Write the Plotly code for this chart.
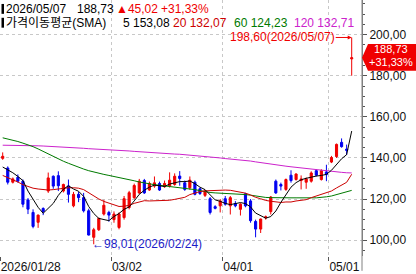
import plotly.graph_objects as go

# ---------------- data ----------------
dates = ["2026/01/28", "2026/01/29", "2026/01/30", "2026/02/02", "2026/02/03", "2026/02/04", "2026/02/05",
         "2026/02/06", "2026/02/09", "2026/02/10", "2026/02/11", "2026/02/12", "2026/02/13", "2026/02/16",
         "2026/02/18", "2026/02/19", "2026/02/20", "2026/02/23", "2026/02/24", "2026/02/25", "2026/02/26",
         "2026/02/27", "2026/03/02", "2026/03/03", "2026/03/04", "2026/03/05", "2026/03/06", "2026/03/09",
         "2026/03/10", "2026/03/11", "2026/03/12", "2026/03/13", "2026/03/16", "2026/03/17", "2026/03/18",
         "2026/03/19", "2026/03/20", "2026/03/23", "2026/03/24", "2026/03/25", "2026/03/26", "2026/03/27",
         "2026/03/30", "2026/03/31", "2026/04/01", "2026/04/02", "2026/04/03", "2026/04/06", "2026/04/07",
         "2026/04/08", "2026/04/09", "2026/04/10", "2026/04/13", "2026/04/14", "2026/04/15", "2026/04/16",
         "2026/04/17", "2026/04/20", "2026/04/21", "2026/04/22", "2026/04/23", "2026/04/24", "2026/04/27",
         "2026/04/28", "2026/04/29", "2026/05/01", "2026/05/04", "2026/05/05", "2026/05/06", "2026/05/07"]

opens = [139.8, 135.1, 128.2, 130.6, 128.7, 119.6, 113.5, 108.7, 115.4, 123.9,
         131.1, 131.4, 123.9, 126.4, 116.7, 122.3, 120.7, 114.3, 101.4, 105.1,
         112.7, 113.5, 110.0, 106.2, 111.0, 115.9, 120.7, 123.0, 129.0, 124.4,
         126.3, 127.6, 126.0, 126.3, 127.1, 131.2, 127.9, 125.5, 128.2, 125.0,
         121.8, 120.2, 116.3, 116.7, 120.2, 116.7, 117.8, 115.0, 122.6, 119.1,
         109.1, 105.4, 110.8, 113.9, 128.7, 127.1, 124.7, 131.6, 129.5, 129.0,
         128.2, 128.7, 133.8, 129.5, 133.2, 138.0, 140.7, 147.6, 144.3, 188.2]
highs = [142.7, 135.9, 130.5, 132.0, 129.5, 120.5, 115.0, 112.5, 116.0, 132.9,
         131.5, 133.5, 127.5, 129.5, 123.5, 123.5, 123.0, 115.3, 106.0, 111.0,
         119.6, 114.3, 114.0, 113.5, 121.5, 124.0, 127.5, 129.8, 129.8, 128.5,
         131.0, 128.5, 129.0, 133.0, 132.5, 133.6, 129.0, 131.0, 129.0, 125.6,
         124.5, 121.0, 117.0, 120.0, 121.5, 121.5, 119.0, 118.0, 123.0, 120.0,
         110.0, 110.5, 112.0, 121.5, 129.5, 128.0, 130.0, 134.0, 132.5, 131.5,
         130.5, 133.5, 134.5, 134.5, 136.7, 141.0, 147.0, 149.5, 146.5, 198.60]
lows = [139.1, 127.1, 127.6, 128.0, 116.0, 112.7, 105.8, 106.0, 112.2, 123.0,
        125.0, 123.9, 123.2, 118.3, 116.0, 118.5, 113.5, 102.3, 98.01, 104.5,
        112.0, 109.0, 108.5, 105.3, 110.0, 115.0, 120.0, 122.5, 122.5, 124.0,
        125.5, 124.0, 125.5, 125.6, 126.5, 126.5, 124.0, 124.5, 121.8, 122.0,
        121.0, 112.5, 115.0, 113.5, 116.8, 112.5, 116.0, 112.0, 116.0, 108.5,
        101.4, 103.5, 110.0, 112.5, 122.5, 124.2, 124.0, 128.0, 129.0, 124.7,
        125.0, 128.0, 131.0, 129.0, 128.7, 137.5, 140.0, 145.0, 141.5, 180.0]
closes = [140.8, 128.2, 129.8, 128.7, 117.5, 115.1, 106.7, 112.2, 113.9, 130.3,
          126.3, 126.5, 127.1, 122.3, 122.3, 120.7, 114.3, 102.5, 105.1, 110.6,
          117.0, 112.2, 112.7, 112.7, 120.2, 123.1, 126.6, 128.7, 123.0, 127.6,
          127.9, 124.4, 127.6, 129.2, 131.1, 130.0, 124.7, 129.2, 122.3, 122.7,
          123.9, 113.5, 115.5, 119.1, 117.5, 120.7, 116.7, 117.5, 116.7, 109.5,
          105.4, 110.3, 111.4, 121.0, 123.0, 126.3, 129.5, 129.0, 132.2, 129.8,
          129.8, 132.7, 131.6, 133.8, 131.9, 140.2, 146.6, 145.5, 143.71, 188.73]

ma5 = [135.6, 134.3, 132.8, 131.0, 129.0, 123.9, 119.6, 116.0, 113.1, 115.6,
       117.9, 121.8, 124.8, 126.5, 124.9, 123.8, 121.3, 116.4, 113.0, 110.6,
       109.9, 109.5, 111.5, 113.0, 115.0, 116.2, 119.1, 122.3, 124.3, 125.8,
       126.8, 126.3, 126.1, 127.3, 128.0, 128.5, 128.5, 128.8, 127.5, 125.8,
       124.6, 122.3, 119.6, 118.9, 117.9, 117.3, 117.9, 118.3, 117.8, 116.2,
       113.2, 111.9, 110.7, 111.5, 114.2, 118.4, 122.2, 125.8, 128.0, 129.4,
       130.1, 130.7, 131.2, 131.5, 132.0, 134.0, 136.8, 139.6, 141.6, 153.08]
ma20 = [131.5, 130.5, 129.5, 128.3, 127.0, 126.0, 125.3, 124.9, 124.5, 124.4,
        124.6, 125.0, 125.3, 125.5, 125.5, 125.3, 124.6, 123.0, 121.3, 120.05,
        118.86, 118.06, 117.2, 116.4, 116.54, 116.94, 117.93, 118.76, 119.21, 119.08,
        119.16, 119.05, 119.08, 119.42, 119.86, 120.33, 120.85, 122.18, 123.04, 123.65,
        123.99, 124.06, 124.2, 124.52, 124.38, 124.26, 123.77, 123.21, 122.89, 121.99,
        120.86, 120.16, 119.35, 118.94, 118.53, 118.35, 118.59, 118.58, 119.07, 119.43,
        119.72, 120.68, 121.49, 122.22, 122.94, 123.92, 125.41, 126.81, 128.16, 132.07]
ma60 = [149.8, 149.3, 148.7, 148.0, 147.2, 146.4, 145.5, 144.4, 143.2, 141.9,
        140.6, 139.4, 138.4, 137.4, 136.4, 135.5, 134.6, 133.8, 133.1, 132.5,
        132.0, 131.5, 131.0, 130.6, 130.2, 129.5, 128.9, 128.3, 127.8, 127.4,
        127.0, 126.7, 126.4, 126.1, 125.9, 125.7, 125.4, 125.1, 124.6, 124.1,
        123.6, 123.2, 123.0, 122.9, 122.8, 122.7, 122.5, 122.4, 122.2, 121.9,
        121.5, 121.1, 120.8, 120.7, 120.6, 120.6, 120.6, 120.6, 120.6, 120.5,
        120.5, 120.6, 120.6, 120.7, 121.1, 121.5, 122.2, 122.8, 123.3, 124.23]
ma120 = [146.2, 146.2, 146.2, 146.2, 146.2, 146.1, 146.0, 145.9, 145.8, 145.7,
         145.6, 145.4, 145.3, 145.1, 145.0, 144.8, 144.7, 144.5, 144.4, 144.2,
         144.1, 144.0, 143.9, 143.8, 143.6, 143.4, 143.2, 143.0, 142.8, 142.6,
         142.5, 142.3, 142.2, 142.0, 141.9, 141.8, 141.6, 141.5, 141.3, 141.1,
         140.9, 140.6, 140.3, 140.0, 139.7, 139.5, 139.3, 139.1, 138.8, 138.5,
         138.1, 137.7, 137.3, 136.9, 136.6, 136.3, 136.0, 135.7, 135.4, 135.1,
         134.8, 134.5, 134.2, 133.9, 133.6, 133.4, 133.2, 133.0, 132.8, 132.71]

tick_index = [0, 22, 44, 65]
tick_labels = ["2026/01/28", "03/02", "04/01", "05/01"]
y_ticks = [100, 120, 140, 160, 180, 200]

# ---------------- style ----------------
RED = "#f00000"
BLUE = "#0000f0"
C5 = "#000000"
C20 = "#cc0000"
C60 = "#007a00"
C120 = "#cc22cc"
FONT = "Liberation Sans, Noto Sans CJK KR, sans-serif"
FS = 12
W, H = 416, 274
PW, PH = 362, 259           # plot area in px
X0_PX, STEP = 2.7, 5.058    # candle geometry
Y_TOP, Y_BOT = 216.83, 92.31


def fmt(v):
    return f"{v:.2f}".replace(".", ",")


def px(xp):
    return xp / PW


def py(yp):
    return 1 - yp / PH


n = len(closes)
xs = list(range(n))
i_hi = highs.index(max(highs))
i_lo = lows.index(min(lows))
last, prev = closes[-1], closes[-2]
chg = last - prev
pct = chg / prev * 100

fig = go.Figure()
fig.add_trace(go.Candlestick(
    x=xs, open=opens, high=highs, low=lows, close=closes,
    increasing=dict(line=dict(color=RED, width=1), fillcolor=RED),
    decreasing=dict(line=dict(color=BLUE, width=1), fillcolor=BLUE),
    whiskerwidth=0, showlegend=False, hoverinfo="skip"))
for arr, col in [(ma120, C120), (ma60, C60), (ma20, C20), (ma5, C5)]:
    fig.add_trace(go.Scatter(x=xs, y=arr, mode="lines", line=dict(color=col, width=1),
                             showlegend=False, hoverinfo="skip"))

grid = dict(showgrid=True, gridcolor="#c8c8c8", gridwidth=1, griddash="3px,3px")
fig.update_layout(
    width=W, height=H, margin=dict(l=0, r=W - PW, t=0, b=H - PH),
    paper_bgcolor="white", plot_bgcolor="white",
    font=dict(family=FONT, size=FS, color="#111111"),
    showlegend=False, boxgap=0.4,
    xaxis=dict(range=[-X0_PX / STEP, (PW - X0_PX) / STEP],
               tickmode="array", tickvals=[i - 0.5 for i in tick_index], ticktext=tick_labels,
               ticks="outside", ticklen=4, tickcolor="#555555",
               ticklabelposition="outside right", tickfont=dict(size=FS),
               zeroline=False, showline=False, rangeslider=dict(visible=False), **grid),
    yaxis=dict(range=[Y_BOT, Y_TOP], side="right", tickmode="array", tickvals=y_ticks,
               ticktext=[fmt(v) for v in y_ticks], ticks="outside", ticklen=4, tickcolor="#555555",
               minor=dict(dtick=5, tick0=0, ticks="outside", ticklen=2, tickcolor="#555555", showgrid=False),
               showline=True, linecolor="#808080", linewidth=1, zeroline=False,
               tickfont=dict(size=FS), **grid),
)

# axis line continues through the label row
fig.add_shape(type="line", xref="paper", yref="paper", x0=1, x1=1, y0=-(H - PH) / PH, y1=1,
              line=dict(color="#808080", width=1))

# header bars
for top in (4, 18):
    fig.add_shape(type="rect", xref="paper", yref="paper", x0=px(1.5), x1=px(4),
                  y0=py(top + 10), y1=py(top), fillcolor="#000000", line=dict(width=0))

header = [
    (dates[-1], 5, 9, "#000000"),
    (fmt(last), 76, 9, "#000000"),
    ("▲" + fmt(chg), 115, 9, RED),
    ("+" + fmt(pct) + "%", 160, 9, RED),
    ("가격이동평균(SMA)", 5, 23, "#000000"),
    ("5 " + fmt(ma5[-1]), 122, 23, C5),
    ("20 " + fmt(ma20[-1]), 172, 23, C20),
    ("60 " + fmt(ma60[-1]), 233, 23, C60),
    ("120 " + fmt(ma120[-1]), 293, 23, C120),
]
for txt, xp, yp, col in header:
    fig.add_annotation(text=txt, xref="paper", yref="paper", x=px(xp), y=py(yp),
                       xanchor="left", yanchor="middle", showarrow=False,
                       font=dict(color=col, size=FS), borderpad=0)

# high / low markers
fig.add_annotation(text=f"{fmt(highs[i_hi])}({dates[i_hi]})", x=i_hi, y=highs[i_hi],
                   xref="x", yref="y", showarrow=True, ax=-16, ay=0, xanchor="right",
                   arrowhead=2, arrowsize=0.8, arrowwidth=1, arrowcolor=RED, standoff=0,
                   font=dict(color=RED, size=FS), borderpad=0)
fig.add_annotation(text=f"←{fmt(lows[i_lo])}({dates[i_lo]})", x=i_lo, y=lows[i_lo],
                   xref="x", yref="y", showarrow=False, xanchor="left", yanchor="middle",
                   xshift=-3, font=dict(color="#1c1cc8", size=FS), borderpad=0)

# last price tag
tip, top_p, bot_p = last, last + 6.7, last - 6.3
fig.add_shape(type="path", xref="paper", yref="y",
              path=f"M 1,{tip} L {px(368)},{top_p} L {px(W)},{top_p} L {px(W)},{bot_p} L {px(368)},{bot_p} Z",
              fillcolor=RED, line=dict(width=0))
for txt, shift in [(fmt(last), 8.5), ("+" + fmt(pct) + "%", -4.5)]:
    fig.add_annotation(text=txt, xref="paper", yref="y", x=px(391), y=tip, yshift=shift,
                       showarrow=False, xanchor="center", yanchor="middle",
                       font=dict(color="white", size=11), borderpad=0)

fig.write_html("out.html")
